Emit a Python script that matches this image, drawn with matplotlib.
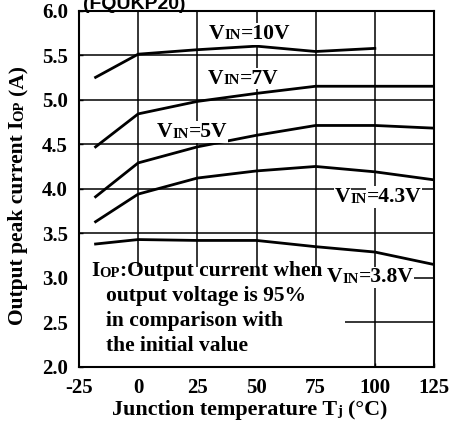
'''
Output peak current vs junction temperature for several input voltages
'''
import numpy as np
import matplotlib
matplotlib.use('Agg')
import matplotlib.pyplot as plt
from matplotlib.patches import Rectangle

# temperature points (deg C)
temps_10v = [-18, 0, 25, 50, 75, 100]
iop_10v = [5.25, 5.51, 5.56, 5.60, 5.54, 5.575]
temps = [-18, 0, 25, 50, 75, 100, 125]
iop_7v = [4.47, 4.84, 4.98, 5.07, 5.15, 5.15, 5.15]
iop_5v = [3.91, 4.29, 4.47, 4.60, 4.71, 4.71, 4.68]
iop_43v = [3.63, 3.94, 4.12, 4.20, 4.25, 4.19, 4.10]
iop_38v = [3.38, 3.43, 3.42, 3.42, 3.35, 3.29, 3.15]

x_ticks = [-25, 0, 25, 50, 75, 100, 125]
y_ticks = [2.0, 2.5, 3.0, 3.5, 4.0, 4.5, 5.0, 5.5, 6.0]

# label text: (voltage string, left x, baseline y)
vin_labels = [('10V', 30, 5.68), ('7V', 29.6, 5.18), ('5V', 8, 4.58),
              ('4.3V', 83.2, 3.85), ('3.8V', 79.8, 2.95)]
note_lines = ['output voltage is 95%', 'in comparison with', 'the initial value']

SERIF = 'Liberation Serif'
BIG = 15.5
SMALL = 10.5
DESC = 0.22  # rough descent of the font, in em


def rich_text(ax, x, y, parts, coords, rotation=0, bg=None):
	# parts: (text, fontsize, gap in points before it)
	prev = None
	prev_fs = None
	for s, fs, gap in parts:
		kw = dict(fontsize=fs, fontweight='bold', family=SERIF,
				  annotation_clip=False, rotation=rotation, zorder=5)
		if bg is not None:
			kw['bbox'] = dict(fc=bg, ec='none', pad=0.4)
		if prev is None:
			if rotation == 0:
				prev = ax.annotate(s, xy=(x, y), xycoords=coords, ha='left', va='baseline', **kw)
			else:
				prev = ax.annotate(s, xy=(x, y), xycoords=coords, ha='left', va='bottom', **kw)
		else:
			shift = DESC * (prev_fs - fs)
			if rotation == 0:
				prev = ax.annotate(s, xy=(1, 0), xycoords=prev, xytext=(gap, shift),
								   textcoords='offset points', ha='left', va='bottom', **kw)
			else:
				prev = ax.annotate(s, xy=(1, 1), xycoords=prev, xytext=(-shift, gap),
								   textcoords='offset points', ha='right', va='bottom', **kw)
		prev_fs = fs
	return prev


fig = plt.figure(figsize=(4.55, 4.28), dpi=100)
W, H = 455.0, 428.0
ax = fig.add_axes([79 / W, (H - 367) / H, (434 - 79) / W, (367 - 10.5) / H])

ax.set_xlim(-25, 125)
ax.set_ylim(2.0, 6.0)
ax.set_xticks(x_ticks)
ax.set_yticks(y_ticks)
ax.set_xticklabels([str(t) for t in x_ticks])
ax.set_yticklabels(['%.1f' % t for t in y_ticks])
for lab in ax.get_xticklabels() + ax.get_yticklabels():
	lab.set_fontfamily(SERIF)
	lab.set_fontweight('bold')
	lab.set_fontsize(15)
ax.tick_params(direction='in', length=3, width=1, pad=8, colors='black')
for sp in ax.spines.values():
	sp.set_linewidth(1.5)
ax.grid(True, color='black', linewidth=1.1, zorder=1)
ax.set_axisbelow(True)

# white box behind the note text hides the grid there
ax.add_patch(Rectangle((-25, 2.0), 112.5, 1.12, facecolor='white', edgecolor='none', zorder=2))

for xs, ys in [(temps_10v, iop_10v), (temps, iop_7v), (temps, iop_5v),
			   (temps, iop_43v), (temps, iop_38v)]:
	ax.plot(xs, ys, color='black', linewidth=2, zorder=4)

for volt, lx, ly in vin_labels:
	rich_text(ax, lx, ly, [('V', BIG, 0), ('IN', SMALL, 0), ('=' + volt, BIG, 0)],
			  'data', bg='white')

rich_text(ax, -19.9, 3.02, [('I', BIG, 0), ('OP', SMALL, 0), (':Output current when', BIG, 0)], 'data')
for k, line in enumerate(note_lines):
	ax.annotate(line, xy=(-13.5, 3.02 - (k + 1) * 25 / 89.0), xycoords='data', ha='left', va='baseline',
				fontsize=BIG, fontweight='bold', family=SERIF, zorder=5)

# axis titles, placed in figure coords
rich_text(ax, 112 / W, (H - 415) / H,
		  [('Junction temperature T', 15.8, 0), ('j', SMALL, 0), ('(°C)', 15.8, 4)], 'figure fraction')
rich_text(ax, 8 / W, (H - 325) / H,
		  [('Output peak current I', BIG, 0), ('OP', SMALL, 0), ('(A)', BIG, 4)], 'figure fraction', rotation=90)

# title is cut off by the top edge
fig.text(83 / W, (H - 9) / H, '(FQUKP20)', fontsize=14, fontweight='bold',
		 family='Liberation Sans', ha='left', va='baseline')

plt.savefig('out.png', dpi=100)
